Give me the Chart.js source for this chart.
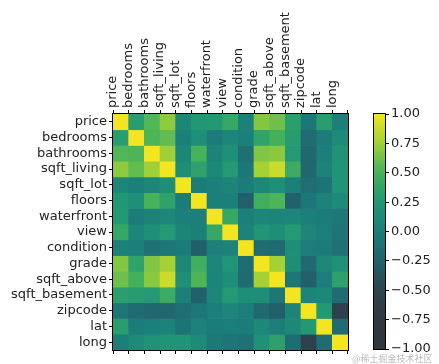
<!DOCTYPE html>
<html>
<head>
<meta charset="utf-8">
<script src="https://cdn.jsdelivr.net/npm/chart.js@4/dist/chart.umd.min.js"></script>
<style>
  body { margin: 0; background: #fff; width: 439px; height: 364px; overflow: hidden; position: relative; }
  canvas { position: absolute; top: 0; }
  #heat { left: 0; }
  #bar { left: 360px; }
  #mark { position: absolute; left: 352px; top: 352px; font: 9px "Noto Sans CJK SC", sans-serif; color: rgba(160,160,160,0.7); white-space: nowrap; }
</style>
</head>
<body>
<canvas id="heat" width="360" height="364"></canvas>
<canvas id="bar" width="79" height="364"></canvas>
<div id="mark">@稀土掘金技术社区</div>
<script>
const names = ['price', 'bedrooms', 'bathrooms', 'sqft_living', 'sqft_lot', 'floors', 'waterfront',
  'view', 'condition', 'grade', 'sqft_above', 'sqft_basement', 'zipcode', 'lat', 'long'];

// correlation matrix, one row per variable
const corr = [
  [1, 0.31, 0.53, 0.70, 0.09, 0.26, 0.27, 0.40, 0.04, 0.67, 0.61, 0.32, -0.05, 0.31, 0.02],
  [0.31, 1, 0.52, 0.58, 0.03, 0.18, -0.01, 0.08, 0.03, 0.36, 0.48, 0.30, -0.15, -0.01, 0.13],
  [0.53, 0.52, 1, 0.75, 0.09, 0.50, 0.06, 0.19, -0.12, 0.66, 0.69, 0.28, -0.20, 0.02, 0.22],
  [0.70, 0.58, 0.75, 1, 0.17, 0.35, 0.10, 0.28, -0.06, 0.76, 0.88, 0.44, -0.20, 0.05, 0.24],
  [0.09, 0.03, 0.09, 0.17, 1, -0.01, 0.02, 0.07, -0.01, 0.11, 0.18, 0.02, -0.13, -0.09, 0.23],
  [0.26, 0.18, 0.50, 0.35, -0.01, 1, 0.02, 0.03, -0.26, 0.46, 0.52, -0.25, -0.06, 0.05, 0.13],
  [0.27, -0.01, 0.06, 0.10, 0.02, 0.02, 1, 0.40, 0.02, 0.08, 0.07, 0.08, 0.03, -0.01, -0.04],
  [0.40, 0.08, 0.19, 0.28, 0.07, 0.03, 0.40, 1, 0.05, 0.25, 0.17, 0.28, 0.08, 0.01, -0.08],
  [0.04, 0.03, -0.12, -0.06, -0.01, -0.26, 0.02, 0.05, 1, -0.14, -0.16, 0.17, 0.00, -0.01, -0.11],
  [0.67, 0.36, 0.66, 0.76, 0.11, 0.46, 0.08, 0.25, -0.14, 1, 0.76, 0.17, -0.18, 0.11, 0.20],
  [0.61, 0.48, 0.69, 0.88, 0.18, 0.52, 0.07, 0.17, -0.16, 0.76, 1, -0.05, -0.26, 0.00, 0.34],
  [0.32, 0.30, 0.28, 0.44, 0.02, -0.25, 0.08, 0.28, 0.17, 0.17, -0.05, 1, 0.07, 0.11, -0.14],
  [-0.05, -0.15, -0.20, -0.20, -0.13, -0.06, 0.03, 0.08, 0.00, -0.18, -0.26, 0.07, 1, 0.27, -0.56],
  [0.31, -0.01, 0.02, 0.05, -0.09, 0.05, -0.01, 0.01, -0.01, 0.11, 0.00, 0.11, 0.27, 1, -0.14],
  [0.02, 0.13, 0.22, 0.24, 0.23, 0.13, -0.04, -0.08, -0.11, 0.20, 0.34, -0.14, -0.56, -0.14, 1]
];

const cbarTicks = [-1, -0.75, -0.5, -0.25, 0, 0.25, 0.5, 0.75, 1];

// colormap stops (value -> rgb)
const cmap = [
  [-1, [47, 54, 60]], [-0.75, [47, 56, 64]], [-0.5, [44, 68, 80]], [-0.25, [33, 97, 108]],
  [0, [28, 125, 122]], [0.25, [32, 150, 118]], [0.5, [70, 178, 90]], [0.75, [160, 208, 55]],
  [1, [243, 229, 32]]
];

function colorOf(v) {
  for (let i = 1; i < cmap.length; i++) {
    if (v <= cmap[i][0]) {
      const [a, ca] = cmap[i - 1], [b, cb] = cmap[i];
      const t = (v - a) / (b - a);
      const c = ca.map((x, k) => Math.round(x + (cb[k] - x) * t));
      return `rgb(${c[0]},${c[1]},${c[2]})`;
    }
  }
  return 'rgb(243,229,32)';
}

const font = { family: 'DejaVu Sans', size: 13 };
const tickGrid = { drawOnChartArea: false, tickLength: 4, color: '#000', tickWidth: 1 };

const frame = {
  id: 'frame',
  afterDraw(chart) {
    const a = chart.chartArea, ctx = chart.ctx;
    ctx.save();
    ctx.strokeStyle = '#000';
    ctx.lineWidth = 1;
    ctx.strokeRect(Math.round(a.left) - 0.5, Math.round(a.top) - 0.5, Math.round(a.right - a.left) + 1, Math.round(a.bottom - a.top) + 1);
    ctx.restore();
  }
};

new Chart(document.getElementById('heat'), {
  type: 'bar',
  data: {
    labels: names,
    datasets: corr.map((row, r) => ({
      label: names[r],
      data: row.map(() => 1),
      backgroundColor: row.map(colorOf),
      borderWidth: 0,
      barPercentage: 1,
      categoryPercentage: 1,
      xAxisID: 'x',
      yAxisID: 'y'
    }))
  },
  options: {
    responsive: false,
    animation: false,
    devicePixelRatio: 1,
    layout: { padding: { left: 0, right: 12, top: 0, bottom: 0 } },
    plugins: { legend: { display: false }, tooltip: { enabled: false } },
    scales: {
      x: {
        position: 'top',
        stacked: true,
        grid: tickGrid,
        border: { display: false },
        ticks: { font, color: '#222', minRotation: 90, maxRotation: 90, padding: 2, labelOffset: 7.8, autoSkip: false },
        afterFit: s => { s.height = 114; }
      },
      x2: {
        type: 'category',
        position: 'bottom',
        grid: tickGrid,
        border: { display: false },
        ticks: { callback: () => '', autoSkip: false },
        afterFit: s => { s.height = 14; }
      },
      y: {
        type: 'linear',
        stacked: true,
        reverse: true,
        min: 0,
        max: names.length,
        grid: tickGrid,
        border: { display: false },
        afterBuildTicks: s => { s.ticks = names.map((n, i) => ({ value: i + 0.5 })); },
        ticks: { font, color: '#222', padding: 2, autoSkip: false, callback: v => names[Math.floor(v)] },
        afterFit: s => { s.width = 113; }
      }
    }
  },
  plugins: [frame]
});

new Chart(document.getElementById('bar'), {
  type: 'bar',
  data: {
    labels: ['corr'],
    datasets: [{
      data: [[-1, 1]],
      borderWidth: 0,
      barPercentage: 1,
      categoryPercentage: 1,
      backgroundColor: ctx => {
        const a = ctx.chart.chartArea;
        if (!a) return 'rgba(0,0,0,0)';
        const g = ctx.chart.ctx.createLinearGradient(0, a.bottom, 0, a.top);
        cmap.forEach(([v, c]) => g.addColorStop((v + 1) / 2, `rgb(${c[0]},${c[1]},${c[2]})`));
        return g;
      }
    }]
  },
  options: {
    responsive: false,
    animation: false,
    devicePixelRatio: 1,
    layout: { padding: { left: 14, right: 0, top: 114, bottom: 15 } },
    plugins: { legend: { display: false }, tooltip: { enabled: false } },
    scales: {
      x: { display: false },
      y: {
        position: 'right',
        min: -1,
        max: 1,
        grid: tickGrid,
        border: { display: false },
        afterBuildTicks: s => { s.ticks = cbarTicks.map(v => ({ value: v })); },
        ticks: {
          font, color: '#222', padding: 2,
          callback: v => (v < 0 ? '\u2212' : '') + Math.abs(v).toFixed(2)
        },
        afterFit: s => { s.width = 54; }
      }
    }
  },
  plugins: [frame]
});
</script>
</body>
</html>
